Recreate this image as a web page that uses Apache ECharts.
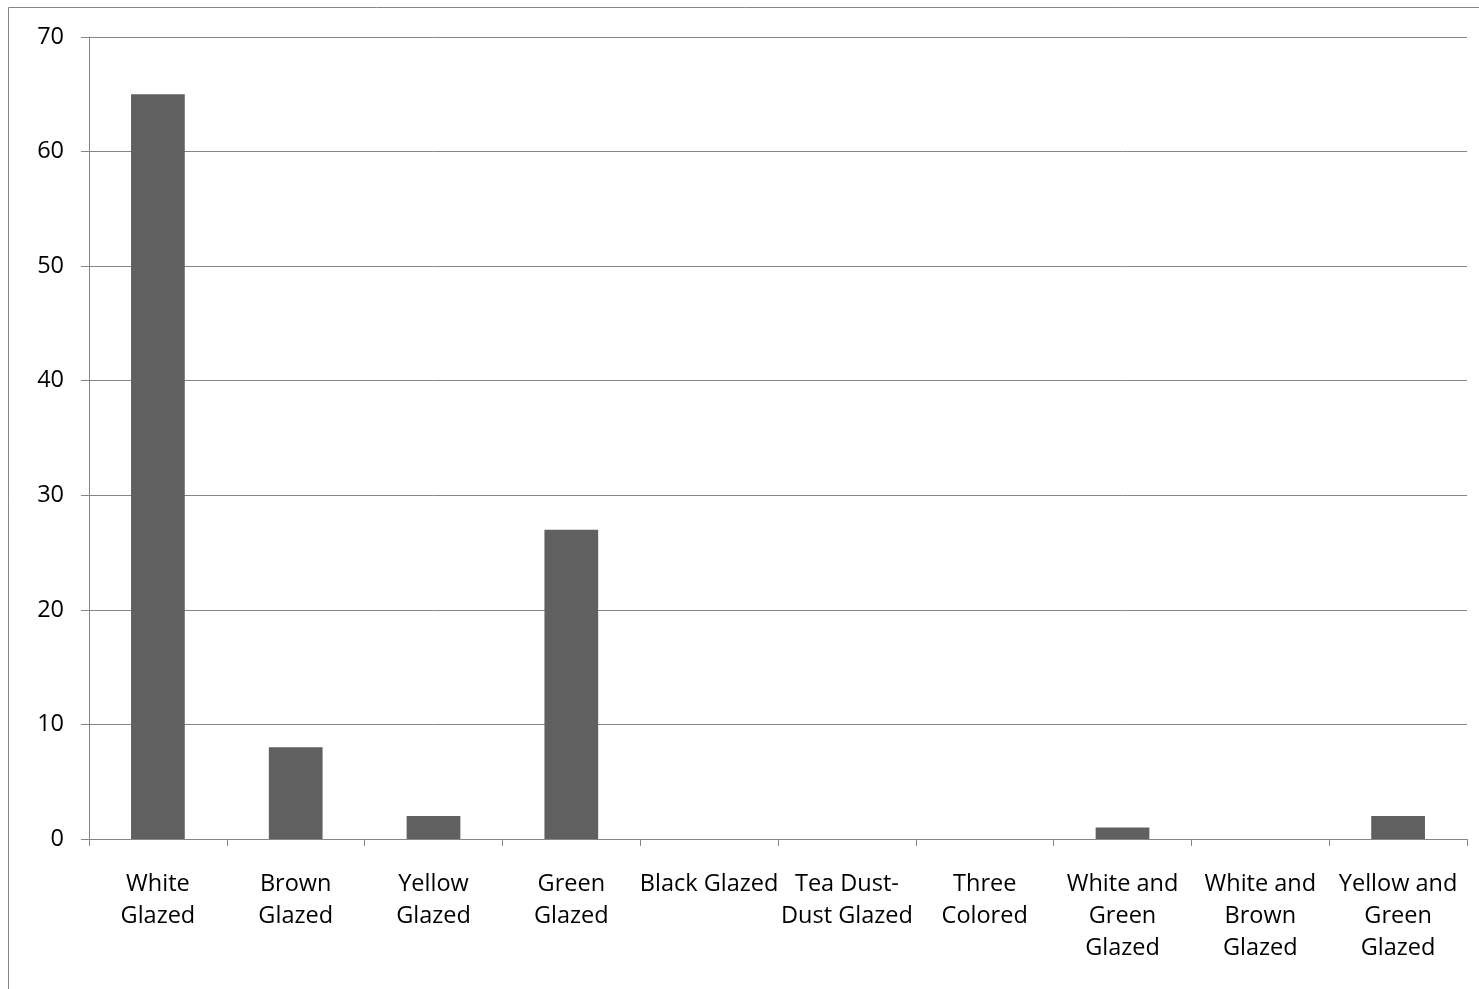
<!DOCTYPE html>
<html>
<head>
<meta charset="utf-8">
<script src="https://cdn.jsdelivr.net/npm/echarts@6/dist/echarts.min.js"></script>
<style>
html,body{margin:0;padding:0;background:#fff;}
#c{width:1479px;height:989px;}
</style>
</head>
<body>
<div id="c"></div>
<script>
const categories = ['White\nGlazed','Brown\nGlazed','Yellow\nGlazed','Green\nGlazed','Black Glazed','Tea Dust-\nDust Glazed','Three\nColored','White and\nGreen\nGlazed','White and\nBrown\nGlazed','Yellow and\nGreen\nGlazed'];
const values = [65, 8, 2, 27, 0, 0, 0, 1, 0, 2];
const yTicks = [0, 10, 20, 30, 40, 50, 60, 70];

const chart = echarts.init(document.getElementById('c'), null, {renderer:'canvas'});
const axisColor = '#868686';
const font = 'Open Sans';
chart.setOption({
  animation:false,
  graphic:[{type:'rect', shape:{x:8.5,y:7.5,width:3000,height:3000}, style:{fill:'none', stroke:axisColor, lineWidth:1}, silent:true}],
  grid:{left:89, right:12, top:37, bottom:150, containLabel:false},
  xAxis:{
    type:'category', data:categories, boundaryGap:true,
    axisLine:{show:true, lineStyle:{color:axisColor, width:1}},
    axisTick:{show:true, length:7, interval:0, alignWithLabel:false, lineStyle:{color:axisColor}},
    axisLabel:{interval:0, color:'#000', fontFamily:font, fontSize:23.5, lineHeight:32, margin:29, align:'center'}
  },
  yAxis:{
    type:'value', min:yTicks[0], max:yTicks[yTicks.length-1], interval:10,
    axisLine:{show:true, lineStyle:{color:axisColor, width:1}},
    axisTick:{show:true, length:8, lineStyle:{color:axisColor}},
    axisLabel:{color:'#000', fontFamily:font, fontSize:23.5, margin:25},
    splitLine:{show:true, lineStyle:{color:axisColor, width:1}}
  },
  series:[{type:'bar', data:values, barWidth:'39%', itemStyle:{color:'#606060'}}]
});
</script>
</body>
</html>
